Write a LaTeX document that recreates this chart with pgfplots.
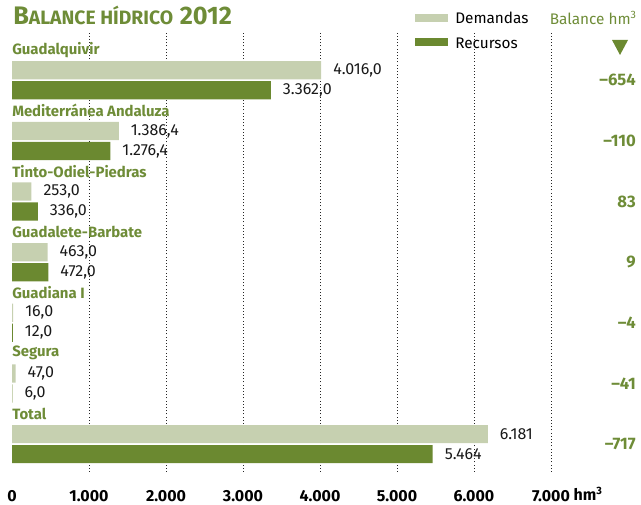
\documentclass[border=0pt]{standalone}
\usepackage{pgfplots}
\pgfplotsset{compat=1.18}
\usepackage{pgfplotstable}
\usepackage{fontspec}
\setmainfont{Fira Sans}
\definecolor{dem}{RGB}{198,208,176}
\definecolor{rec}{RGB}{107,137,48}
\definecolor{tgreen}{RGB}{110,140,55}

\pgfplotstableread{
x y lab
4016.0 0.165 4.016,0
1386.4 -0.835 1.386,4
253.0 -1.835 253,0
463.0 -2.835 463,0
16.0 -3.835 16,0
47.0 -4.835 47,0
6181 -5.835 6.181
}\demtab
\pgfplotstableread{
x y lab
3362.0 -0.165 3.362,0
1276.4 -1.165 1.276,4
336.0 -2.165 336,0
472.0 -3.165 472,0
12.0 -4.165 12,0
6.0 -5.165 6,0
5464 -6.165 5.464
}\rectab

\begin{document}
\begin{tikzpicture}
\useasboundingbox (0,0) rectangle (480.75pt,378.75pt);
\begin{axis}[
  at={(9pt,24.75pt)}, anchor=south west,
  scale only axis, width=404.25pt, height=329.25pt,
  xmin=0, xmax=7000, ymin=-6.46, ymax=0.78,
  axis line style={draw=none},
  major tick length=0pt,
  ytick=\empty,
  xtick={1000,2000,3000,4000,5000,6000,7000},
  xticklabels={1.000,2.000,3.000,4.000,5.000,6.000,7.000},
  extra x ticks={0}, extra x tick labels={0},
  extra x tick style={grid=none},
  xmajorgrids,
  grid style={black!85, line width=0.7pt, dash pattern=on 0.8pt off 1.6pt},
  xticklabel style={font=\fontsize{12}{14}\selectfont\bfseries, text=black, inner sep=0pt, yshift=-13.5pt},
  xbar, bar width=0.3, bar shift=0pt,
  clip=false,
  nodes near coords,
  point meta=explicit symbolic,
  nodes near coords style={anchor=west, xshift=5.5pt, font=\fontsize{12}{14}\selectfont, text=black!90},
]
\addplot[fill=dem, draw=none] table[x=x, y=y, meta=lab] {\demtab};
\addplot[fill=rec, draw=none] table[x=x, y=y, meta=lab] {\rectab};

\begin{scope}[every node/.style={anchor=west, inner sep=0pt, text=tgreen, font=\fontsize{11.2}{13}\selectfont\bfseries}]
\node at (axis cs:0,0.5) {Guadalquivir};
\node at (axis cs:0,-0.5) {Mediterránea Andaluza};
\node at (axis cs:0,-1.5) {Tinto-Odiel-Piedras};
\node at (axis cs:0,-2.5) {Guadalete-Barbate};
\node at (axis cs:0,-3.5) {Guadiana I};
\node at (axis cs:0,-4.5) {Segura};
\node at (axis cs:0,-5.5) {Total};
\end{scope}
\begin{scope}[every node/.style={anchor=east, inner sep=0pt, text=tgreen, font=\fontsize{12.5}{14}\selectfont\bfseries}]
\node at (axis cs:8104,0) {–654};
\node at (axis cs:8104,-1) {–110};
\node at (axis cs:8104,-2) {83};
\node at (axis cs:8104,-3) {9};
\node at (axis cs:8104,-4) {–4};
\node at (axis cs:8104,-5) {–41};
\node at (axis cs:8104,-6) {–717};
\end{scope}
\end{axis}

% unit after the last tick label
\node[anchor=base west, inner sep=0pt, font=\fontsize{12}{14}\selectfont\bfseries] at (430pt,3.7pt) {hm\textsuperscript{3}};
% title
\node[anchor=base west, inner sep=0pt, text=tgreen, font=\bfseries] at (9.75pt,360pt)
  {{\fontsize{19}{20}\selectfont B}{\fontsize{14.5}{16}\selectfont ALANCE HÍDRICO}\hspace{5pt}{\fontsize{19}{20}\selectfont 2012}};
% legend
\fill[dem] (311.25pt,362.25pt) rectangle (336pt,368.25pt);
\fill[rec] (311.25pt,344.25pt) rectangle (336pt,350.25pt);
\node[anchor=west, inner sep=0pt, font=\fontsize{11.5}{13}\selectfont] at (341.25pt,365.25pt) {Demandas};
\node[anchor=west, inner sep=0pt, font=\fontsize{11.5}{13}\selectfont] at (341.25pt,346.5pt) {Recursos};
\node[anchor=east, inner sep=0pt, text=tgreen, font=\fontsize{11.5}{13}\selectfont] at (477.75pt,365.25pt) {Balance hm\textsuperscript{3}};
\fill[rec] (459pt,348.75pt) -- (471pt,348.75pt) -- (465pt,337.5pt) -- cycle;
\end{tikzpicture}
\end{document}
